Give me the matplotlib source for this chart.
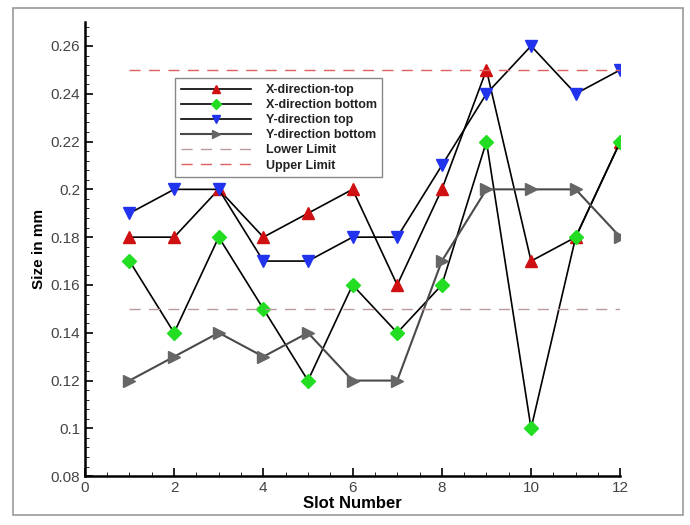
import matplotlib
matplotlib.use('Agg')
import matplotlib.pyplot as plt
from matplotlib.patches import Rectangle
from matplotlib.ticker import MultipleLocator

plt.rcParams['font.family'] = ['Liberation Sans', 'DejaVu Sans']

slots = [1, 2, 3, 4, 5, 6, 7, 8, 9, 10, 11, 12]
x_top = [0.18, 0.18, 0.20, 0.18, 0.19, 0.20, 0.16, 0.20, 0.25, 0.17, 0.18, 0.22]
x_bottom = [0.17, 0.14, 0.18, 0.15, 0.12, 0.16, 0.14, 0.16, 0.22, 0.10, 0.18, 0.22]
y_top = [0.19, 0.20, 0.20, 0.17, 0.17, 0.18, 0.18, 0.21, 0.24, 0.26, 0.24, 0.25]
y_bottom = [0.12, 0.13, 0.14, 0.13, 0.14, 0.12, 0.12, 0.17, 0.20, 0.20, 0.20, 0.18]
lower_limit = 0.15
upper_limit = 0.25

fig = plt.figure(figsize=(6.9, 5.25), dpi=100)
ax = fig.add_axes([0.123, 0.093, 0.776, 0.865])

# frame round the whole picture
fig.patches.append(Rectangle((0.019, 0.019), 0.971, 0.966, transform=fig.transFigure,
                             fill=False, edgecolor='#999999', linewidth=1.2))

ax.plot(slots, x_top, '-', color='black', lw=1.2, marker='^', ms=8,
        mfc='#d01010', mec='#d01010', label='X-direction-top')
ax.plot(slots, x_bottom, '-', color='black', lw=1.2, marker='D', ms=7,
        mfc='#22dd22', mec='#22dd22', label='X-direction bottom')
ax.plot(slots, y_top, '-', color='black', lw=1.2, marker='v', ms=8,
        mfc='#2233ee', mec='#2233ee', label='Y-direction top')
ax.plot(slots, y_bottom, '-', color='#4a4a4a', lw=1.5, marker='>', ms=8,
        mfc='#666666', mec='#666666', label='Y-direction bottom')
ax.plot([slots[0], slots[-1]], [lower_limit, lower_limit], '--', color='#b89a9a',
        lw=1, dashes=(8, 6), label='Lower Limit')
ax.plot([slots[0], slots[-1]], [upper_limit, upper_limit], '--', color='#e06060',
        lw=1, dashes=(8, 6), label='Upper Limit')

ax.set_xlim(0, 12)
ax.set_ylim(0.08, 0.27)
ax.set_yticks([0.08, 0.1, 0.12, 0.14, 0.16, 0.18, 0.2, 0.22, 0.24, 0.26])
ax.set_yticklabels(['0.08', '0.1', '0.12', '0.14', '0.16', '0.18', '0.2', '0.22', '0.24', '0.26'])
ax.xaxis.set_major_locator(MultipleLocator(2))
ax.xaxis.set_minor_locator(MultipleLocator(0.5))
ax.yaxis.set_minor_locator(MultipleLocator(0.004))
ax.tick_params(which='both', direction='in', labelsize=11, labelcolor='#444444')
ax.tick_params(which='major', length=6, width=1.2)
ax.tick_params(which='minor', length=3, width=0.6)

for s in ['top', 'right']:
    ax.spines[s].set_visible(False)
for s in ['left', 'bottom']:
    ax.spines[s].set_linewidth(1.8)

ax.set_xlabel('Slot Number', fontsize=12, fontweight='bold', labelpad=1)
ax.set_ylabel('Size in mm', fontsize=11, fontweight='bold', labelpad=3)

leg = ax.legend(loc='upper left', bbox_to_anchor=(0.157, 0.89), fancybox=False,
                edgecolor='#888888', prop={'weight': 'bold', 'size': 9},
                handlelength=5.6, handletextpad=1.2, labelspacing=0.25,
                borderpad=0.45, markerscale=0.8, framealpha=1)
leg.get_frame().set_linewidth(1.0)
for t in leg.get_texts():
    t.set_color('#222222')

fig.savefig('out.png', dpi=100)
